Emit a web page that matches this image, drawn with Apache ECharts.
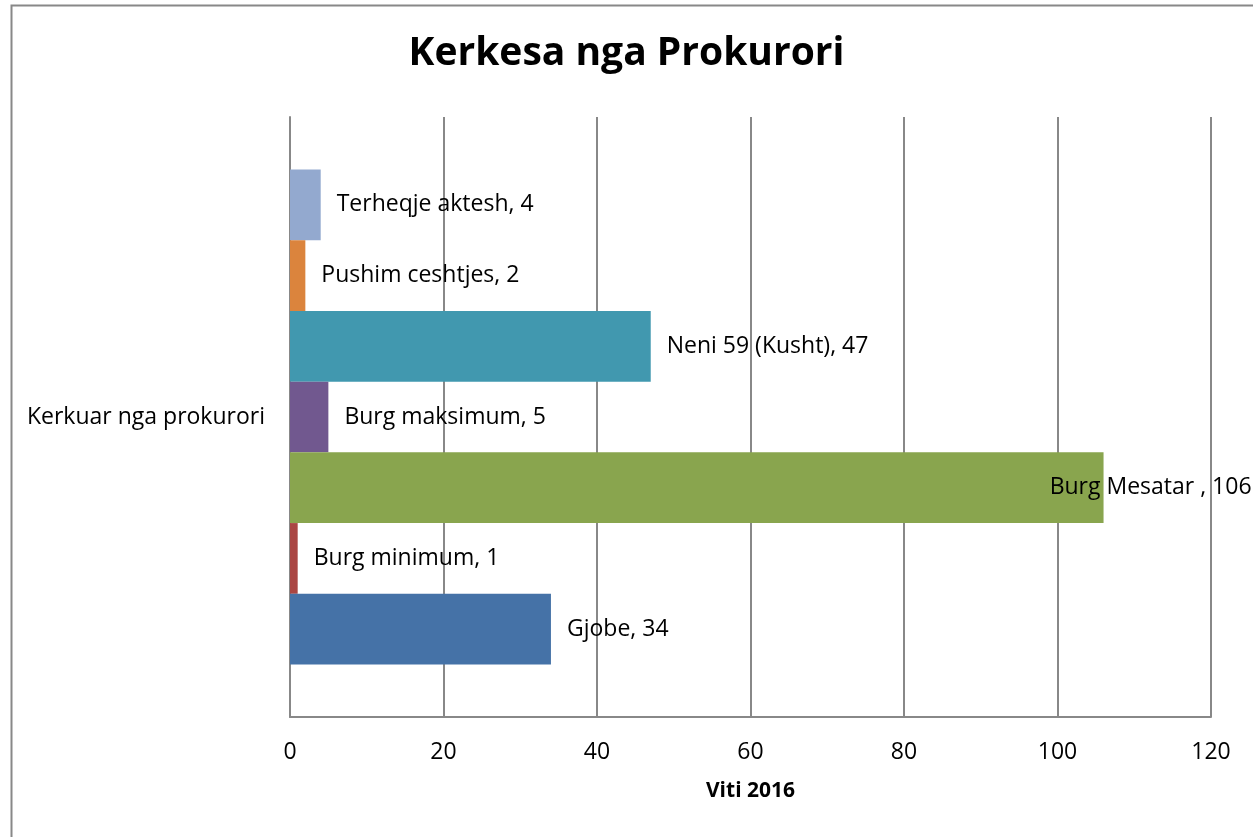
<!DOCTYPE html>
<html><head><meta charset="utf-8">
<script src="https://cdn.jsdelivr.net/npm/echarts@6/dist/echarts.min.js"></script>
<style>html,body{margin:0;padding:0;background:#fff}#c{width:1253px;height:837px}</style>
</head><body><div id="c"></div>
<script>
const categories = ['Kerkuar nga prokurori'];
const seriesNames = ['Gjobe', 'Burg minimum', 'Burg Mesatar ', 'Burg maksimum', 'Neni 59 (Kusht)', 'Pushim ceshtjes', 'Terheqje aktesh'];
const seriesValues = [34, 1, 106, 5, 47, 2, 4];
const colors = ['#4572A7', '#AA4643', '#89A54E', '#71588F', '#4198AF', '#DB843D', '#93A9CF'];
const xTicks = [0, 20, 40, 60, 80, 100, 120];

const FONT = '"Open Sans", sans-serif';
const FS = 23;
const chart = echarts.init(document.getElementById('c'));
const series = seriesNames.map((n, i) => {
  const s = {
    name: n, type: 'bar', data: [seriesValues[i]],
    barGap: '0%', barCategoryGap: '17.5%',
    itemStyle: { color: colors[i] },
    label: { show: true, position: 'right', distance: 16, formatter: '{a}, {c}',
      color: '#000', fontSize: FS, fontFamily: FONT }
  };
  if (n === 'Burg Mesatar ') {
    s.label.align = 'right'; s.label.distance = 0; s.label.offset = [148, 0];
  }
  return s;
}).reverse();
chart.setOption({
  animation: false,
  title: { text: 'Kerkesa nga Prokurori', left: 'center', top: 29,
    textStyle: { fontSize: 39, fontWeight: 'bold', fontFamily: FONT, color: '#000' } },
  grid: { left: 290, right: 42, top: 117, bottom: 120 },
  xAxis: { type: 'value', min: xTicks[0], max: xTicks[xTicks.length - 1], interval: 20,
    name: 'Viti 2016', nameLocation: 'middle', nameGap: 64,
    nameTextStyle: { fontSize: 21, fontWeight: 'bold', fontFamily: FONT, color: '#000' },
    axisLine: { show: true, lineStyle: { color: '#888', width: 2 } },
    axisTick: { show: false },
    axisLabel: { fontSize: FS, fontFamily: FONT, color: '#000', margin: 24 },
    splitLine: { show: true, lineStyle: { color: '#888', width: 2 } } },
  yAxis: { type: 'category', data: categories,
    axisLine: { show: true, lineStyle: { color: '#888', width: 2 } },
    axisTick: { show: false },
    axisLabel: { fontSize: FS, fontFamily: FONT, color: '#000', margin: 25 } },
  graphic: [{ type: 'rect', left: 9, top: 3, shape: { width: 1300, height: 900 },
    style: { fill: 'none', stroke: '#888', lineWidth: 2 }, silent: true }],
  series: series
});
</script></body></html>
